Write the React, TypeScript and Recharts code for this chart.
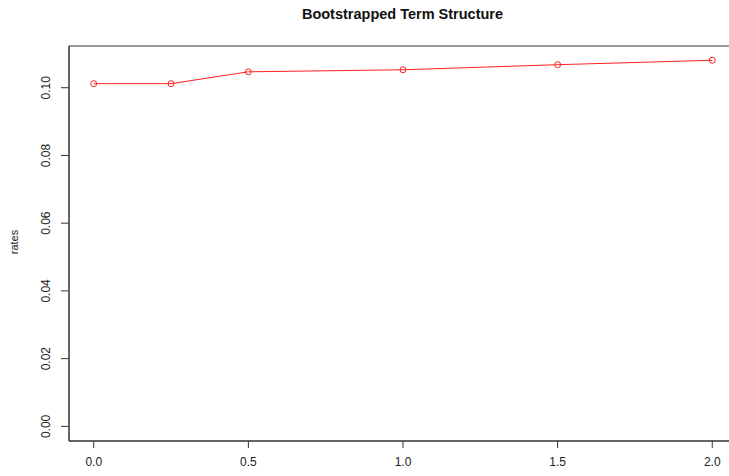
import { LineChart, Line, XAxis, YAxis, ReferenceArea } from 'recharts';

// maturities (years) and bootstrapped zero rates
const maturities = [0, 0.25, 0.5, 1.0, 1.5, 2.0];
const rates = [0.1012, 0.1012, 0.1047, 0.1053, 0.1068, 0.1081];

const xTicks = [0, 0.5, 1.0, 1.5, 2.0];
const yTicks = [0, 0.02, 0.04, 0.06, 0.08, 0.1];

const data = maturities.map((m, i) => ({ m, rate: rates[i] }));

const FONT = '"Liberation Sans", Arial, sans-serif';

// R-style 4% padding around the data range
const xDomain = [-0.08, 2.08];
const yDomain = [-0.00432, 0.11232];

function YTick({ x, y, payload }: any) {
  const bx = x - 9;
  return (
    <text
      x={bx}
      y={y}
      transform={`rotate(-90, ${bx}, ${y})`}
      textAnchor="middle"
      fontSize={12}
      fontFamily={FONT}
      fill="#222"
    >
      {payload.value.toFixed(2)}
    </text>
  );
}

function XTick({ x, y, payload }: any) {
  return (
    <text x={x} y={y + 16} textAnchor="middle" fontSize={12} fontFamily={FONT} fill="#222">
      {payload.value.toFixed(1)}
    </text>
  );
}

export default function App() {
  return (
    <div
      style={{
        position: 'absolute',
        left: 0,
        top: 0,
        width: 729,
        height: 476,
        overflow: 'hidden',
        background: '#fff',
      }}
    >
      <div
        style={{
          position: 'absolute',
          top: 6,
          left: 0,
          width: 805,
          textAlign: 'center',
          fontFamily: FONT,
          fontWeight: 'bold',
          fontSize: 14.5,
          color: '#111',
        }}
      >
        Bootstrapped Term Structure
      </div>
      <div
        style={{
          position: 'absolute',
          left: 14,
          top: 242,
          transform: 'translate(-50%, -50%) rotate(-90deg)',
          fontFamily: FONT,
          fontSize: 11,
          color: '#222',
          whiteSpace: 'nowrap',
        }}
      >
        rates
      </div>
      <LineChart
        width={745}
        height={476}
        data={data}
        margin={{ top: 46, right: 8, bottom: 0, left: 0 }}
      >
        <XAxis
          dataKey="m"
          type="number"
          domain={xDomain}
          ticks={xTicks}
          allowDataOverflow
          height={35}
          tickSize={7}
          axisLine={{ stroke: '#333' }}
          tickLine={{ stroke: '#333' }}
          tick={<XTick />}
        />
        <YAxis
          type="number"
          domain={yDomain}
          ticks={yTicks}
          allowDataOverflow
          width={69}
          tickSize={8}
          axisLine={{ stroke: '#333' }}
          tickLine={{ stroke: '#333' }}
          tick={<YTick />}
        />
        <ReferenceArea
          x1={xDomain[0]}
          x2={xDomain[1]}
          y1={yDomain[0]}
          y2={yDomain[1]}
          fill="none"
          stroke="#333"
          strokeWidth={1}
          ifOverflow="visible"
        />
        <Line
          dataKey="rate"
          stroke="#ff2020"
          strokeWidth={1}
          dot={{ r: 3, stroke: '#ff2020', strokeWidth: 1, fill: 'none' }}
          isAnimationActive={false}
        />
      </LineChart>
    </div>
  );
}
